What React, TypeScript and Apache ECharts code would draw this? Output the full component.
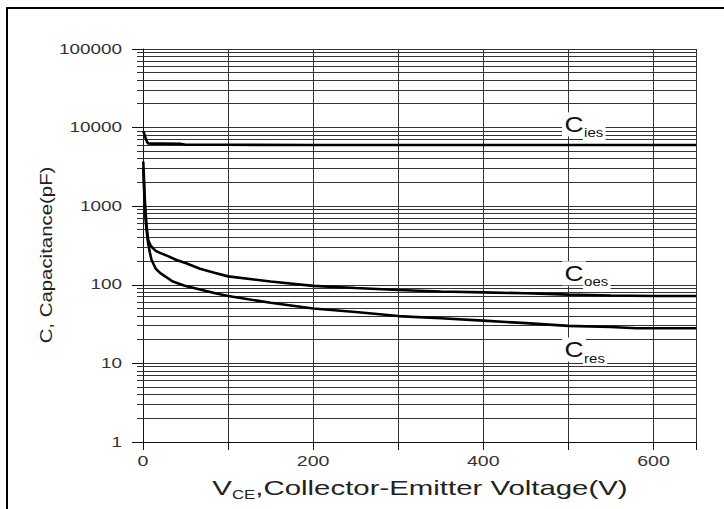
import React, { useEffect, useRef } from 'react';
import * as echarts from 'echarts';

// ---- data ----
const ciesVoltage = [0.3, 1, 2, 3, 4, 5, 6, 10, 20, 45, 50, 100, 200, 300, 400, 500, 600, 650];
const ciesValues = [9000, 8600, 8000, 7400, 6900, 6500, 6300, 6250, 6250, 6200, 6050, 6050, 6000, 6000, 6000, 6000, 6000, 6000];

const coesVoltage = [0.3, 0.5, 1, 1.5, 2, 3, 4, 5, 6, 8, 10, 15, 20, 30, 40, 50, 67, 85, 100, 150, 200, 250, 300, 350, 400, 450, 500, 550, 600, 650];
const coesValues = [3700, 3300, 2500, 1800, 1300, 850, 600, 470, 375, 330, 305, 270, 255, 230, 205, 189, 160, 141, 128, 110, 97, 91, 86, 82, 80, 78, 75, 73, 72, 72];

const cresVoltage = [0.3, 0.5, 1, 1.5, 2, 3, 4, 5, 6, 8, 10, 15, 20, 26, 35, 49, 67, 85, 100, 150, 200, 250, 300, 350, 400, 450, 500, 550, 580, 650];
const cresValues = [3000, 2600, 1900, 1400, 1000, 700, 520, 420, 340, 260, 208, 160, 142, 128, 110, 97, 87, 78, 72, 59, 50, 45, 40, 37.5, 35, 32.5, 30, 29, 28, 28];

const xTickLabels = [0, 200, 400, 600];
const yTickLabels = [1, 10, 100, 1000, 10000, 100000];
const yMinorLines = [2, 3, 4, 5, 6, 7, 8, 9, 20, 30, 40, 50, 60, 70, 80, 90, 200, 300, 400, 500, 600, 700, 800, 900,
  2000, 3000, 4000, 5000, 6000, 7000, 8000, 9000, 20000, 30000, 40000, 50000, 60000, 70000, 80000, 90000];

const curveLabelSubs = ['ies', 'oes', 'res'];
const curveLabelV = [496, 496, 496];
const curveLabelC = [11000, 140, 15];

const FONT = 'Liberation Sans, Arial, Helvetica, sans-serif';
const GRID = '#333';

export default function App() {
  const ref = useRef<HTMLDivElement>(null);
  useEffect(() => {
    if (!ref.current) return;
    const chart = echarts.init(ref.current, null, { renderer: 'svg' });
    const crisp = (v: number) => Math.round(v - 0.5) + 0.5;
    const option: any = {
      animation: false,
      backgroundColor: '#fff',
      grid: { left: 143, right: 28, top: 49, bottom: 67 },
      xAxis: {
        type: 'value', min: 0, max: 650, interval: 100,
        axisLine: { show: true, onZero: false, lineStyle: { color: '#111', width: 1 } },
        axisTick: { show: true, length: 8, lineStyle: { color: '#111' } },
        axisLabel: { show: false },
        splitLine: { show: true, lineStyle: { color: GRID, width: 1 } },
      },
      yAxis: {
        type: 'log', logBase: 10, min: 1, max: 100000,
        axisLine: { show: true, lineStyle: { color: '#111', width: 1 } },
        axisTick: { show: true, length: 11, lineStyle: { color: '#111' } },
        axisLabel: { show: false },
        splitLine: { show: true, lineStyle: { color: GRID, width: 1 } },
        minorTick: { show: false },
      },
      series: [
        {
          type: 'custom', name: 'minorGrid', z: 1, silent: true,
          data: yMinorLines.map((v) => [0, v]),
          renderItem: (params: any, api: any) => {
            const v = api.value(1);
            const p0 = api.coord([0, v]);
            const p1 = api.coord([650, v]);
            const y = crisp(p0[1]);
            return { type: 'line', shape: { x1: p0[0] - 6, y1: y, x2: p1[0], y2: y }, style: { stroke: GRID, lineWidth: 1 } };
          },
        },
        {
          type: 'line', name: 'Cies', z: 3, symbol: 'none', showSymbol: false, silent: true,
          lineStyle: { color: '#000', width: 2.6 },
          data: ciesVoltage.map((v, i) => [v, ciesValues[i]]),
        },
        {
          type: 'line', name: 'Coes', z: 3, symbol: 'none', showSymbol: false, silent: true,
          lineStyle: { color: '#000', width: 2.6 },
          data: coesVoltage.map((v, i) => [v, coesValues[i]]),
        },
        {
          type: 'line', name: 'Cres', z: 3, symbol: 'none', showSymbol: false, silent: true,
          lineStyle: { color: '#000', width: 2.6 },
          data: cresVoltage.map((v, i) => [v, cresValues[i]]),
        },
        {
          type: 'custom', name: 'yLabels', z: 4, silent: true,
          data: yTickLabels.map((v) => [0, v]),
          renderItem: (params: any, api: any) => {
            const p = api.coord([0, api.value(1)]);
            return {
              type: 'text', x: p[0] - 21, y: p[1], scaleX: 1.35,
              style: { text: String(yTickLabels[params.dataIndex]), align: 'right', verticalAlign: 'middle', textAlign: 'right', textVerticalAlign: 'middle', fontSize: 14, fontFamily: FONT, fill: '#333' },
            };
          },
        },
        {
          type: 'custom', name: 'xLabels', z: 4, silent: true,
          data: xTickLabels.map((v) => [v, 1]),
          renderItem: (params: any, api: any) => {
            const p = api.coord([api.value(0), 1]);
            return {
              type: 'text', x: p[0], y: p[1] + 19, scaleX: 1.4,
              style: { text: String(xTickLabels[params.dataIndex]), align: 'center', verticalAlign: 'middle', textAlign: 'center', textVerticalAlign: 'middle', fontSize: 14, fontFamily: FONT, fill: '#333' },
            };
          },
        },
        {
          type: 'custom', name: 'curveLabels', z: 6, silent: true,
          data: curveLabelV.map((v, i) => [v, curveLabelC[i]]),
          renderItem: (params: any, api: any) => {
            const p = api.coord([api.value(0), api.value(1)]);
            const sub = curveLabelSubs[params.dataIndex];
            return {
              type: 'group',
              children: [
                {
                  type: 'text', x: p[0] - 3, y: p[1], scaleX: 1.2,
                  style: { text: 'C', align: 'left', verticalAlign: 'middle', textAlign: 'left', textVerticalAlign: 'middle', fontSize: 22, fontFamily: FONT, fill: '#111', backgroundColor: '#fff', padding: [1, 2, 1, 2] },
                },
                {
                  type: 'text', x: p[0] + 18, y: p[1] + 8.5, scaleX: 1.15,
                  style: { text: sub, align: 'left', verticalAlign: 'middle', textAlign: 'left', textVerticalAlign: 'middle', fontSize: 13, fontFamily: FONT, fill: '#111', backgroundColor: '#fff', padding: [1, 2, 1, 1] },
                },
              ],
            };
          },
        },
      ],
      graphic: [
        { type: 'line', shape: { x1: 6, y1: 8, x2: 724, y2: 8 }, style: { stroke: '#000', lineWidth: 2 }, z: 10 },
        { type: 'line', shape: { x1: 7, y1: 7, x2: 7, y2: 509 }, style: { stroke: '#000', lineWidth: 2 }, z: 10 },
        {
          type: 'text', x: 46, y: 255, rotation: Math.PI / 2, scaleX: 1.2, z: 10,
          style: { text: 'C, Capacitance(pF)', align: 'center', verticalAlign: 'middle', textAlign: 'center', textVerticalAlign: 'middle', fontSize: 17, fontFamily: FONT, fill: '#222' },
        },
        {
          type: 'text', x: 420, y: 488, scaleX: 1.4, z: 10,
          style: {
            text: '{m|V}{s|CE}{m|,Collector-Emitter Voltage(V)}',
            align: 'center', verticalAlign: 'middle', textAlign: 'center', textVerticalAlign: 'middle',
            fontSize: 21, fontFamily: FONT, fill: '#222',
            rich: {
              m: { fontSize: 21, fontFamily: FONT, fill: '#222' },
              s: { fontSize: 12, fontFamily: FONT, fill: '#222', padding: [14, 0, 0, 0] },
            },
          },
        },
      ],
    };
    chart.setOption(option);
    return () => chart.dispose();
  }, []);
  return <div ref={ref} style={{ position: 'fixed', left: 0, top: 0, width: 724, height: 509, background: '#fff' }} />;
}
